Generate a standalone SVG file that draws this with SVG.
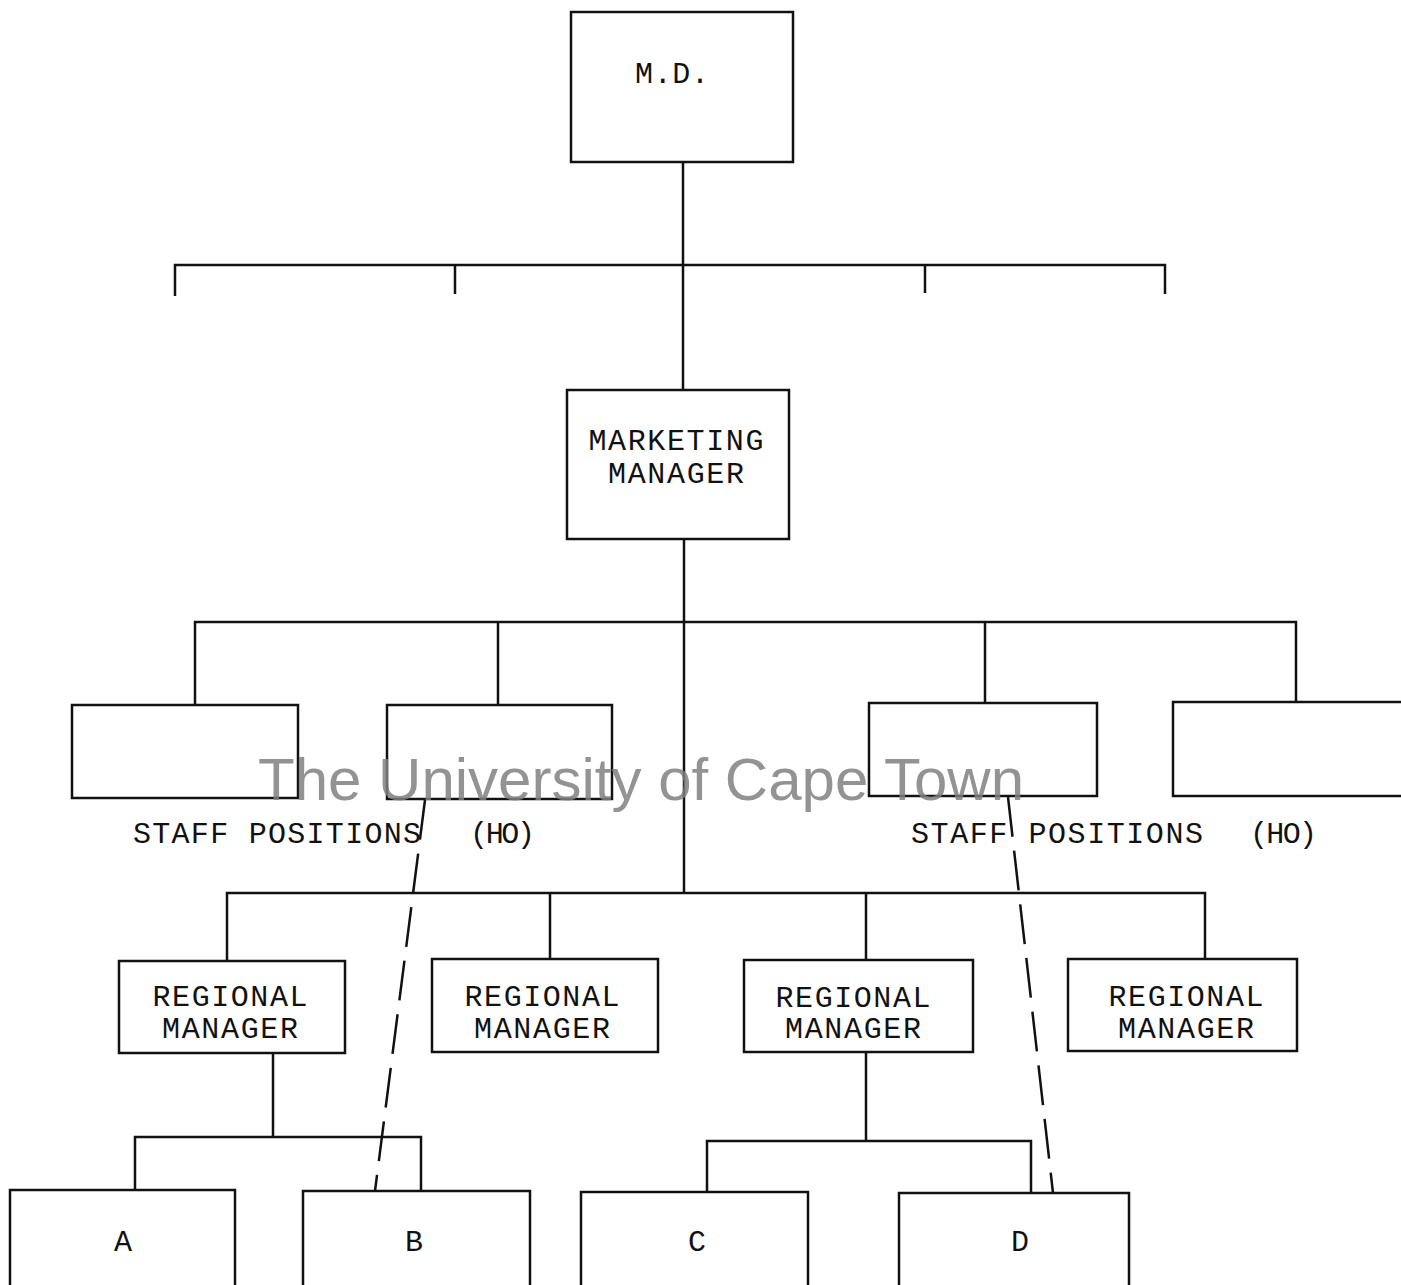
<svg xmlns="http://www.w3.org/2000/svg" width="1401" height="1285" viewBox="0 0 1401 1285">
<style>
.box{fill:none;stroke:#111;stroke-width:2.5}
.ln{fill:none;stroke:#111;stroke-width:2.5}
.dash{fill:none;stroke:#111;stroke-width:2.5;stroke-dasharray:40 14}
.t{font-family:"Liberation Mono","DejaVu Sans Mono",monospace;font-size:30px;fill:#111;text-anchor:middle}
.tl{font-family:"Liberation Mono","DejaVu Sans Mono",monospace;font-size:30px;fill:#111}
.wm{font-family:"Liberation Sans",Arial,sans-serif;font-size:60px;fill:#808080;fill-opacity:0.85}
</style>
<rect width="1401" height="1285" fill="#fff"/>
<g id="connectors">
<path class="ln" d="M683 162V390M175 296V265H1165V294M455 265V294M925 265V293"/>
<path class="ln" d="M684 539V893M195 705V622H1296V702M498 622V705M985 622V703"/>
<path class="ln" d="M227 961V893H1205V959M550 893V959M866 893V960"/>
<path class="ln" d="M273 1053V1137M135 1190V1137H421V1191"/>
<path class="ln" d="M866 1052V1141M707 1192V1141H1031V1193"/>
<path class="dash" d="M425 800L375 1191"/>
<path class="dash" d="M1008 797L1053 1193"/>
</g>
<g id="md"><rect class="box" x="571" y="12" width="222" height="150"/><text class="t" x="672" y="83" textLength="74">M.D.</text></g>
<g id="marketing"><rect class="box" x="567" y="390" width="222" height="149"/><text class="t" x="676" y="450" textLength="175">MARKETING</text><text class="t" x="676" y="483" textLength="136">MANAGER</text></g>
<g id="staff1"><rect class="box" x="72" y="705" width="226" height="93"/></g>
<g id="staff2"><rect class="box" x="387" y="705" width="225" height="94"/></g>
<g id="staff3"><rect class="box" x="869" y="703" width="228" height="93"/></g>
<g id="staff4"><rect class="box" x="1173" y="702" width="232" height="94"/></g>
<g id="staff-labels">
<text class="tl" x="133" y="843" textLength="288">STAFF POSITIONS</text>
<text class="tl" x="470" y="843" textLength="65">(HO)</text>
<text class="tl" x="911" y="843" textLength="292">STAFF POSITIONS</text>
<text class="tl" x="1250" y="843" textLength="67">(HO)</text>
</g>
<g id="rm1"><rect class="box" x="119" y="961" width="226" height="92"/><text class="t" x="230" y="1006" textLength="155">REGIONAL</text><text class="t" x="230" y="1038" textLength="136">MANAGER</text></g>
<g id="rm2"><rect class="box" x="432" y="959" width="226" height="93"/><text class="t" x="542" y="1006" textLength="155">REGIONAL</text><text class="t" x="542" y="1038" textLength="136">MANAGER</text></g>
<g id="rm3"><rect class="box" x="744" y="960" width="229" height="92"/><text class="t" x="853" y="1007" textLength="155">REGIONAL</text><text class="t" x="853" y="1038" textLength="136">MANAGER</text></g>
<g id="rm4"><rect class="box" x="1068" y="959" width="229" height="92"/><text class="t" x="1186" y="1006" textLength="155">REGIONAL</text><text class="t" x="1186" y="1038" textLength="136">MANAGER</text></g>
<g id="a"><rect class="box" x="10" y="1190" width="225" height="100"/><text class="t" x="123" y="1251">A</text></g>
<g id="b"><rect class="box" x="303" y="1191" width="227" height="100"/><text class="t" x="414" y="1251">B</text></g>
<g id="c"><rect class="box" x="581" y="1192" width="227" height="100"/><text class="t" x="697" y="1251">C</text></g>
<g id="d"><rect class="box" x="899" y="1193" width="230" height="100"/><text class="t" x="1020" y="1251">D</text></g>
<text class="wm" x="258" y="800" textLength="766">The University of Cape Town</text>
</svg>
